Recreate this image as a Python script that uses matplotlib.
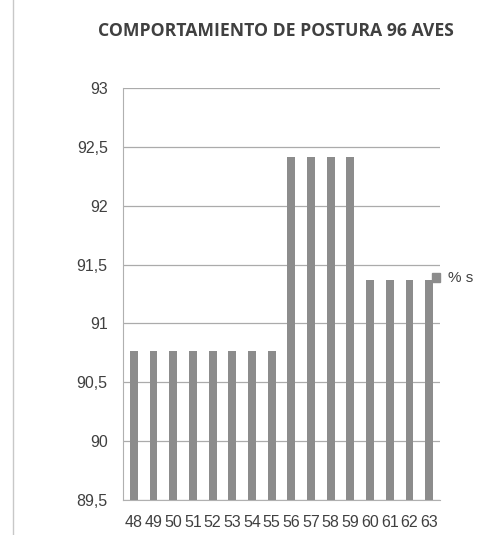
import matplotlib.pyplot as plt
from matplotlib.lines import Line2D

semanas = ["48", "49", "50", "51", "52", "53", "54", "55",
           "56", "57", "58", "59", "60", "61", "62", "63"]
postura = [90.77, 90.77, 90.77, 90.77, 90.77, 90.77, 90.77, 90.77,
           92.41, 92.41, 92.41, 92.41, 91.37, 91.37, 91.37, 91.37]
yticks = [89.5, 90, 90.5, 91, 91.5, 92, 92.5, 93]

W, H = 479, 535
fig = plt.figure(figsize=(W / 100, H / 100), dpi=100)
ax = fig.add_axes([123 / W, 1 - 500 / H, 317 / W, 412 / H])

x = range(len(semanas))
ax.bar(x, postura, width=0.4, color="#8c8c8c", zorder=3)

ax.set_ylim(89.5, 93)
ax.set_xlim(-0.55, len(semanas) - 0.45)
ax.set_yticks(yticks)
ax.set_yticklabels([f"{v:g}".replace(".", ",") for v in yticks],
                   fontsize=11.5, color="#404040", family="Liberation Sans")
ax.set_xticks(list(x))
ax.set_xticklabels(semanas, fontsize=11.5, color="#404040", family="Liberation Sans")
ax.tick_params(axis="y", length=0, pad=11)
ax.tick_params(axis="x", length=0, pad=11)
ax.grid(axis="y", color="#ababab", linewidth=0.9, zorder=0)

for side in ["top", "right"]:
    ax.spines[side].set_visible(False)
ax.spines["left"].set_color("#b0b0b0")
ax.spines["bottom"].set_color("#b0b0b0")

fig.text(276 / W, 1 - 31 / H, "COMPORTAMIENTO DE POSTURA 96 AVES",
         ha="center", va="center", fontsize=12.7, fontweight="bold",
         color="#404040", family="Open Sans")

# leyenda pegada al borde derecho
fig.patches.append(plt.Rectangle((432 / W, 1 - 282 / H), 8 / W, 9 / H,
                                 transform=fig.transFigure, color="#8c8c8c"))
fig.text(448 / W, 1 - 278 / H, "% s", ha="left", va="center",
         fontsize=11, color="#404040", family="Liberation Sans")

# borde de la hoja escaneada
fig.add_artist(Line2D([13 / W, 13 / W], [0, 1], transform=fig.transFigure,
                      color="#c8c8c8", linewidth=1))

fig.savefig("out.png", dpi=100)
